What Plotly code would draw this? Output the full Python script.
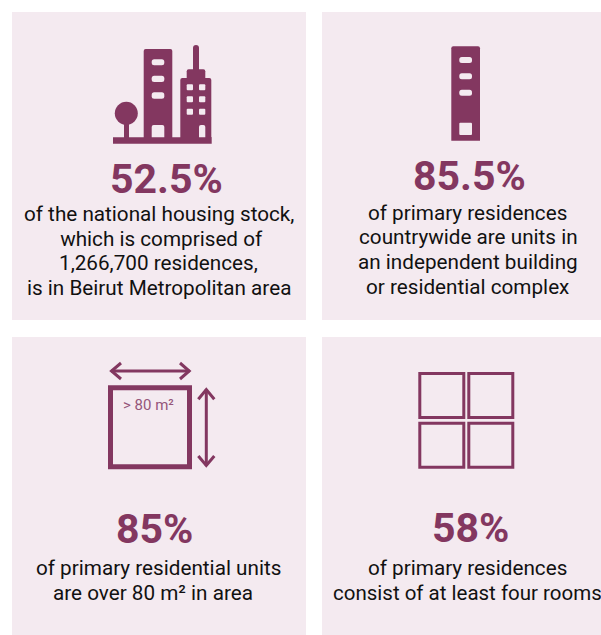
import plotly.graph_objects as go

percentages = ["52.5%", "85.5%", "85%", "58%"]
captions = [
    ["of the national housing stock,", " which is comprised of", "1,266,700 residences,", "is in Beirut Metropolitan area"],
    ["of primary residences", "countrywide are units in", "an independent building", "or residential complex"],
    ["of primary residential units", "are over 80 m² in area"],
    ["of primary residences", "consist of at least four rooms"],
]
icon_label = "> 80 m²"

PANEL = "#f4eaf0"
PLUM = "#833760"
INK = "#111111"
FONT = "Roboto, Arial, sans-serif"

panels = [(12, 12, 306, 320), (322, 12, 601, 320), (12, 337, 306, 635), (322, 337, 601, 635)]
pct_pos = [(166, 179), (469.5, 176), (154.5, 529), (470, 528)]
cap_x = [[158.5, 158.5, 158.5, 158.5], [467.5, 468, 468, 467.5], [158, 153], [467.5, 467]]
cap_y = [[214, 239, 263, 288], [213, 237, 262, 287], [568, 593], [568, 593]]

shapes = []
def rect(x0, y0, x1, y1, fill=PLUM, line=None, width=0):
    shapes.append(dict(type="rect", xref="x", yref="y", x0=x0, y0=y0, x1=x1, y1=y1,
                       fillcolor=fill, line=dict(color=line or fill, width=width)))
def rrect(x0, y0, x1, y1, r=2, fill=PANEL, bottom=True):
    rb = r if bottom else 0
    path = (f"M {x0+r},{y0} L {x1-r},{y0} Q {x1},{y0} {x1},{y0+r} "
            f"L {x1},{y1-rb} Q {x1},{y1} {x1-rb},{y1} L {x0+rb},{y1} Q {x0},{y1} {x0},{y1-rb} "
            f"L {x0},{y0+r} Q {x0},{y0} {x0+r},{y0} Z")
    shapes.append(dict(type="path", xref="x", yref="y", path=path, fillcolor=fill,
                       line=dict(width=0)))
def seg(pts, width=3):
    path = "M " + " L ".join(f"{x},{y}" for x, y in pts)
    shapes.append(dict(type="path", xref="x", yref="y", path=path,
                       line=dict(color=PLUM, width=width)))

for p in panels:
    rect(*p, fill=PANEL)

# city icon
rect(113, 137.3, 211.7, 143.7)
rrect(143.7, 49, 172.3, 138, r=2, fill=PLUM, bottom=False)
shapes.append(dict(type="circle", xref="x", yref="y", x0=114.8, y0=101.8, x1=137.8, y1=124.8,
                   fillcolor=PLUM, line=dict(width=0)))
rect(124, 122, 129, 138)
rrect(180.3, 78, 211.3, 138, r=2, fill=PLUM, bottom=False)
rrect(186.7, 69.3, 205.3, 79, r=2, fill=PLUM, bottom=False)
rrect(193, 45, 199, 70, r=3, fill=PLUM, bottom=False)
for y0, y1 in [(59.3, 65.3), (75.7, 82), (92.3, 98.7)]:
    rrect(151.7, y0, 164.3, y1, r=2.5)
rrect(151.7, 125, 164.3, 137.3, r=2, bottom=False)
for y0, y1 in [(84.3, 90.3), (96.3, 102.3), (108.7, 114.7)]:
    rrect(186.7, y0, 193, y1, r=1)
    rrect(199, y0, 205.3, y1, r=1)
rrect(199, 125, 205.3, 137.3, r=2, bottom=False)

# tower icon
rrect(451.3, 46.3, 480, 140.7, r=2, fill=PLUM, bottom=False)
for y0, y1 in [(57, 63), (73.3, 79.3), (89.7, 95.7)]:
    rrect(459.3, y0, 472, y1, r=2.5)
rrect(459.3, 122.7, 472, 135, r=1)

# area icon
rect(110.5, 387.8, 189.5, 466.8, fill=PANEL, line=PLUM, width=5)
seg([(111, 371), (189.7, 371)])
seg([(121, 363), (111.5, 371), (121, 379)])
seg([(180, 363), (189.2, 371), (180, 379)])
seg([(206.3, 389), (206.3, 466)])
seg([(198.3, 399.3), (206.3, 389.5), (214.3, 399.3)])
seg([(198.3, 456), (206.3, 465.5), (214.3, 456)])

# rooms icon
for x0, x1 in [(419.8, 463.8), (468.8, 512.8)]:
    for y0, y1 in [(373.5, 417.5), (423.2, 467.2)]:
        rect(x0, y0, x1, y1, fill=PANEL, line=PLUM, width=3)

annotations = []
def text(x, y, s, size, color, bold=False):
    annotations.append(dict(x=x, y=y, xref="x", yref="y", text=f"<b>{s}</b>" if bold else s,
                            showarrow=False, xanchor="center", yanchor="middle",
                            font=dict(family=FONT, size=size, color=color)))

for (x, y), s in zip(pct_pos, percentages):
    text(x, y, s, 41, PLUM, bold=True)
for xs, ys, lines in zip(cap_x, cap_y, captions):
    for x, y, s in zip(xs, ys, lines):
        text(x, y, s, 20.5 if s.startswith("consist") else 20.7, INK)
text(148.3, 405, icon_label, 15, "#95557a")

fig = go.Figure()
fig.update_layout(
    width=601, height=635, margin=dict(l=0, r=0, t=0, b=0),
    paper_bgcolor="white", plot_bgcolor="white", showlegend=False,
    xaxis=dict(range=[0, 601], visible=False, fixedrange=True),
    yaxis=dict(range=[635, 0], visible=False, fixedrange=True),
    shapes=shapes, annotations=annotations,
)
fig.write_html("out.html", config=dict(displayModeBar=False),
               post_script="document.body.style.margin='0';document.documentElement.style.overflow='hidden';window.dispatchEvent(new Event('resize'));")
